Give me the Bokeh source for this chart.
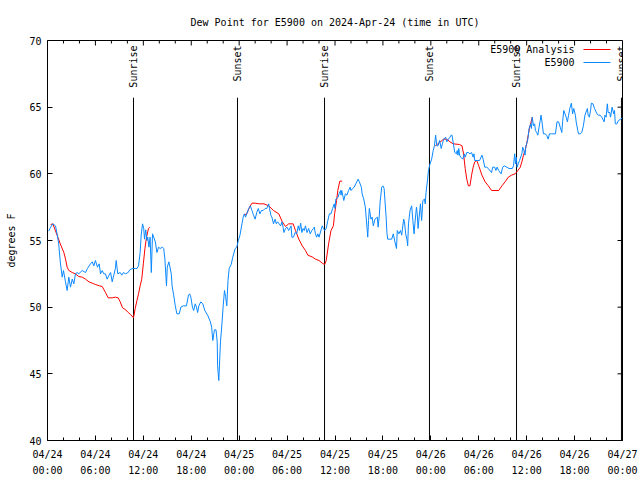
import numpy as np
from bokeh.plotting import figure
from bokeh.models import (FixedTicker, DatetimeTickFormatter, DatetimeAxis, Range1d, Label)
from bokeh.embed import file_html
from bokeh.resources import INLINE

# ---------------- data ----------------
T0 = 1713916800000  # 2024-04-24 00:00 UTC (ms)
HOUR = 3600000

title_text = "Dew Point for E5900 on 2024-Apr-24 (time in UTC)"
y_label = "degrees F"
series_names = ["E5900 Analysis", "E5900"]

# E5900 observations: hours after 04/24 00:00 UTC, dew point (F)
obs_hours = [0.15, 0.4, 0.67, 1.0, 1.2, 1.4, 1.6, 1.84, 2.0, 2.25, 2.46, 2.67, 2.88, 3.1, 3.3, 3.5, 3.7, 3.92,
             4.34, 4.76, 5.0, 5.38, 5.6, 5.8, 6.0, 6.26, 6.47, 6.64, 6.85, 7.05, 7.25, 7.47, 7.7, 7.9, 8.1,
             8.3, 8.5, 8.6, 8.8, 9.1, 9.3, 9.5, 9.75, 10.1, 10.3, 10.6, 11.0, 11.2, 11.4, 11.6, 11.73, 11.9,
             12.05, 12.15, 12.3, 12.45, 12.55, 12.7, 12.85, 13.0, 13.15, 13.3, 13.5, 13.7, 13.9, 14.1, 14.4,
             14.55, 14.7, 14.9, 15.0, 15.2, 15.3, 15.5, 15.6, 15.8, 16.0, 16.2, 16.5, 16.7, 17.0, 17.4, 17.65,
             17.8, 17.95, 18.15, 18.3, 18.5, 18.65, 18.8, 18.95, 19.2, 19.45, 19.7, 20.05, 20.4, 20.55, 20.7,
             20.9, 21.1, 21.25, 21.3, 21.45, 21.66, 21.85, 22.0, 22.16, 22.3, 22.45, 22.6, 22.75, 23.0, 23.2,
             23.5, 23.7, 23.9, 24.1, 24.35, 24.5, 24.65, 24.8, 24.95, 25.2, 25.4, 25.6, 25.8, 26.0, 26.2,
             26.4, 26.6, 26.8, 27.0, 27.25, 27.45, 27.7, 27.8, 27.97, 28.1, 28.3, 28.5, 28.65, 28.8, 29.2,
             29.35, 29.5, 29.6, 29.8, 30.0, 30.2, 30.5, 30.6, 30.8, 31.0, 31.2, 31.4, 31.55, 31.7, 31.85,
             32.0, 32.15, 32.3, 32.5, 32.7, 32.9, 33.1, 33.3, 33.4, 33.55, 33.7, 33.85, 34.0, 34.4, 34.55,
             34.7, 34.9, 35.1, 35.3, 35.5, 35.7, 35.9, 36.0, 36.1, 36.4, 36.5, 36.7, 36.75, 36.85, 37.1,
             37.3, 37.5, 37.7, 37.9, 38.0, 38.2, 38.4, 38.6, 38.9, 39.05, 39.3, 39.4, 39.6, 39.8, 40.0,
             40.1, 40.2, 40.3, 40.5, 40.65, 40.8, 41.0, 41.3, 41.4, 41.55, 41.65, 41.85, 42.0, 42.15, 42.4,
             42.5, 42.6, 42.9, 43.1, 43.3, 43.5, 43.7, 43.8, 44.0, 44.2, 44.35, 44.6, 44.7, 44.85, 45.0,
             45.1, 45.2, 45.4, 45.6, 45.75, 45.9, 46.0, 46.2, 46.3, 46.4, 46.7, 46.85, 47.0, 47.2, 47.3,
             47.4, 47.6, 47.7, 47.9, 48.1, 48.3, 48.45, 48.6, 48.75, 48.9, 49.1, 49.3, 49.45, 49.6, 49.85,
             50.0, 50.2, 50.4, 50.55, 50.65, 51.0, 51.2, 51.3, 51.4, 51.5, 51.6, 51.75, 52.0, 52.2, 52.3,
             52.5, 52.7, 52.9, 53.1, 53.3, 53.4, 53.5, 53.8, 54.1, 54.4, 54.55, 54.75, 55.0, 55.2, 55.6,
             55.75, 56.0, 56.15, 56.3, 56.5, 56.8, 57.0, 57.2, 57.5, 57.8, 58.2, 58.35, 58.5, 58.6, 58.7,
             58.8, 58.95, 59.1, 59.4, 59.5, 59.65, 59.8, 59.9, 60.0, 60.15, 60.3, 60.5, 60.6, 60.7, 60.85,
             61.0, 61.1, 61.25, 61.4, 61.55, 61.7, 61.8, 61.95, 62.1, 62.3, 62.5, 62.7, 62.85, 63.1, 63.4,
             63.6, 63.8, 64.0, 64.2, 64.4, 64.5, 64.65, 64.8, 64.95, 65.1, 65.25, 65.4, 65.6, 65.75, 65.9,
             66.1, 66.2, 66.4, 66.5, 66.7, 66.9, 67.1, 67.3, 67.6, 67.7, 67.85, 68.0, 68.1, 68.3, 68.5,
             68.8, 69.0, 69.2, 69.4, 69.7, 69.8, 69.95, 70.1, 70.2, 70.4, 70.5, 70.7, 70.9, 71.0, 71.1,
             71.3, 71.5, 71.75, 72.0]
obs_dewpoint = [55.7, 56.0, 56.25, 56.1, 55.5, 54.75, 53.4, 52.25, 52.75, 51.9, 51.25, 52.25, 51.5, 52.1, 51.75,
                52.5, 52.6, 52.5, 52.75, 52.6, 52.9, 53.25, 53.4, 53.1, 53.5, 53.0, 53.25, 52.5, 52.75, 52.5,
                52.5, 52.1, 52.4, 52.6, 51.9, 52.4, 52.9, 53.5, 52.5, 52.6, 52.4, 52.6, 52.5, 52.6, 52.8,
                52.9, 52.9, 52.9, 53.1, 54.1, 55.4, 56.25, 55.9, 55.1, 55.8, 55.0, 55.25, 54.5, 55.25, 52.6,
                55.5, 55.25, 54.9, 54.1, 54.5, 54.4, 54.5, 54.4, 53.6, 51.6, 53.0, 53.4, 53.1, 52.5, 51.6,
                50.9, 50.1, 49.5, 49.5, 50.0, 50.1, 50.1, 50.9, 51.0, 50.75, 50.0, 49.75, 50.25, 50.0, 49.6,
                50.1, 50.4, 50.25, 49.75, 49.4, 48.9, 48.5, 47.5, 48.3, 48.3, 47.4, 45.6, 44.5, 47.4, 48.8,
                50.1, 51.25, 50.8, 50.1, 52.0, 52.9, 53.2, 53.75, 54.4, 54.5, 55.0, 55.4, 56.25, 56.75, 57.0,
                56.75, 57.0, 57.4, 57.6, 57.25, 56.9, 56.6, 57.1, 57.4, 57.0, 57.25, 57.25, 57.4, 57.4, 57.75,
                57.4, 56.9, 56.75, 56.25, 56.6, 56.25, 56.4, 56.1, 56.4, 56.0, 55.6, 55.9, 56.0, 55.75, 56.1,
                55.25, 55.25, 55.6, 55.5, 56.1, 55.75, 56.3, 55.6, 55.9, 55.75, 56.1, 55.6, 55.9, 55.5, 55.75,
                55.9, 56.0, 55.5, 55.25, 55.5, 55.25, 56.1, 55.9, 55.75, 55.9, 56.5, 57.0, 57.0, 57.4, 57.75,
                57.4, 58.1, 58.25, 58.5, 58.75, 58.4, 58.75, 58.0, 58.5, 58.4, 58.75, 59.0, 58.75, 58.9, 59.0,
                59.25, 59.6, 59.4, 59.0, 58.5, 58.1, 57.5, 56.0, 55.25, 56.5, 57.4, 56.6, 56.75, 56.1, 56.6,
                56.75, 56.0, 56.9, 57.9, 59.0, 59.1, 58.9, 56.75, 55.6, 55.1, 55.1, 55.1, 55.5, 54.9, 54.4,
                55.75, 55.5, 55.75, 55.4, 56.6, 56.4, 55.5, 55.1, 54.6, 56.25, 57.25, 57.6, 56.5, 55.5, 56.25,
                57.5, 57.0, 55.9, 57.75, 56.5, 58.0, 58.1, 57.75, 58.6, 59.6, 60.25, 60.75, 61.1, 61.75, 62.1,
                62.9, 62.1, 62.1, 62.5, 61.9, 62.25, 62.6, 62.75, 62.4, 62.6, 62.75, 62.9, 62.9, 61.6, 61.5,
                61.75, 61.4, 61.9, 61.4, 61.25, 61.1, 61.5, 61.25, 61.6, 61.6, 61.5, 61.6, 61.25, 61.5, 61.0,
                61.0, 61.0, 61.4, 61.1, 60.5, 60.5, 60.4, 60.1, 60.5, 60.5, 60.25, 60.5, 60.25, 60.0, 60.5,
                60.6, 60.5, 60.4, 60.4, 60.6, 61.5, 60.75, 61.25, 60.5, 60.75, 61.0, 61.5, 62.0, 61.75, 61.4,
                62.1, 62.25, 62.6, 63.4, 63.75, 63.4, 64.25, 63.6, 63.75, 63.25, 63.1, 62.9, 63.5, 64.0, 64.4,
                63.75, 63.0, 63.0, 62.9, 62.6, 63.0, 63.0, 63.0, 63.0, 63.9, 63.9, 63.5, 63.1, 63.9, 64.75,
                64.5, 64.25, 63.9, 64.4, 64.9, 65.3, 64.5, 64.9, 64.4, 63.9, 63.25, 63.0, 63.0, 63.1, 63.6,
                64.4, 64.9, 64.4, 64.25, 64.75, 65.3, 65.25, 64.9, 64.5, 64.4, 64.4, 64.25, 63.9, 64.4, 64.25,
                65.25, 64.6, 64.6, 64.25, 65.0, 64.5, 64.75, 63.75, 63.75, 64.0, 64.1, 64.2]

# E5900 Analysis: three separate segments
ana_hours_1 = [0.4, 0.67, 1.2, 1.6, 2.05, 2.26, 2.46, 2.67, 3.1, 3.5, 3.9, 4.35, 4.76, 5.2, 5.6, 6.0, 6.5,
               6.85, 7.26, 7.6, 8.1, 8.5, 8.85, 9.1, 9.4, 9.8, 10.1, 10.4, 10.77, 10.98, 11.2, 11.4, 11.6,
               11.8, 12.0, 12.2, 12.4, 12.65, 12.8]
ana_dewpoint_1 = [56.2, 56.25, 55.4, 54.75, 54.1, 53.6, 53.0, 52.75, 52.6, 52.5, 52.3, 52.25, 52.1, 51.9,
                  51.8, 51.7, 51.6, 51.55, 51.1, 50.7, 50.7, 50.75, 50.7, 50.4, 49.95, 49.8, 49.6, 49.45,
                  49.2, 49.9, 50.5, 51.0, 51.6, 52.1, 53.25, 54.4, 55.25, 55.9, 56.0]
ana_hours_2 = [24.6, 24.95, 25.3, 25.6, 26.0, 26.5, 27.1, 27.7, 28.3, 28.96, 29.4, 29.8, 30.2, 30.76, 31.05,
               31.47, 31.9, 32.3, 32.6, 33.2, 33.55, 34.0, 34.4, 34.7, 34.9, 35.2, 35.5, 35.8, 35.95, 36.2,
               36.35, 36.6, 36.9]
ana_dewpoint_2 = [56.9, 57.0, 57.5, 57.8, 57.8, 57.75, 57.75, 57.6, 57.25, 57.0, 56.4, 56.05, 56.25, 56.25,
                  55.75, 55.1, 54.6, 54.25, 53.9, 53.75, 53.6, 53.5, 53.3, 53.2, 53.5, 54.75, 55.75, 56.1,
                  57.0, 58.0, 58.75, 59.45, 59.45]
ana_hours_3 = [48.55, 49.0, 49.6, 50.0, 50.4, 50.8, 51.6, 51.9, 52.1, 52.3, 52.5, 52.7, 52.9, 53.1, 53.3,
               53.5, 53.75, 54.0, 54.4, 54.8, 55.2, 55.6, 56.5, 56.9, 57.3, 57.7, 58.1, 58.55, 58.9, 59.2,
               59.4, 59.6, 59.8, 60.0, 60.35, 60.7]
ana_dewpoint_3 = [62.1, 62.3, 62.6, 62.6, 62.4, 62.25, 62.2, 62.1, 61.5, 60.4, 59.6, 59.1, 59.1, 59.9, 60.5,
                  60.9, 61.0, 60.6, 59.9, 59.4, 59.1, 58.75, 58.75, 59.1, 59.4, 59.75, 59.9, 60.0, 60.25,
                  60.5, 60.9, 61.4, 61.75, 62.25, 63.4, 64.25]

# sunrise / sunset markers (hours after start)
event_hours = [10.77, 23.79, 34.69, 47.83, 58.73, 71.87]
event_names = ["Sunrise", "Sunset", "Sunrise", "Sunset", "Sunrise", "Sunset"]

x_tick_hours = list(range(0, 73, 6))
x_minor_hours = list(range(0, 73, 2))
y_ticks = [40, 45, 50, 55, 60, 65, 70]

X_MIN_H, X_MAX_H = 0, 72
Y_MIN, Y_MAX = 40, 70

# ---------------- styling ----------------
FONT = "DejaVu Sans Mono"
FS = "10px"
BLUE = "#0a88ff"
RED = "#ff0000"
FRAME_W, FRAME_H = 575, 400
MAJOR_TICK_PX, MINOR_TICK_PX = 5, 3


def to_ms(hours):
    return [T0 + h * HOUR for h in hours]


nan = float("nan")
ana_hours = ana_hours_1 + [nan] + ana_hours_2 + [nan] + ana_hours_3
ana_dewpoint = ana_dewpoint_1 + [nan] + ana_dewpoint_2 + [nan] + ana_dewpoint_3

p = figure(width=640, height=480, x_axis_type="datetime",
           x_range=Range1d(T0 + X_MIN_H * HOUR, T0 + X_MAX_H * HOUR),
           y_range=Range1d(Y_MIN, Y_MAX),
           output_backend="svg", toolbar_location=None,
           min_border_left=47, min_border_right=18, min_border_top=40, min_border_bottom=40)

p.title.text = title_text
p.title.align = "center"
p.title.text_font = FONT
p.title.text_font_size = FS
p.title.text_font_style = "normal"
p.title.text_color = "black"
p.title.standoff = 25

p.outline_line_color = "black"
p.outline_line_alpha = 1.0
p.outline_line_width = 1
p.xgrid.visible = False
p.ygrid.visible = False
p.background_fill_color = "white"
p.border_fill_color = "white"

fields = ["microseconds", "milliseconds", "seconds", "minsec", "minutes", "hourmin",
          "hours", "days", "months", "years"]

xa = p.below[0]
xa.ticker = FixedTicker(ticks=to_ms(x_tick_hours), minor_ticks=to_ms(x_minor_hours))
xa.formatter = DatetimeTickFormatter(**{f: "%m/%d" for f in fields})
xa.axis_line_color = None
xa.major_tick_in = MAJOR_TICK_PX
xa.major_tick_out = 0
xa.minor_tick_in = MINOR_TICK_PX
xa.minor_tick_out = 0
xa.major_label_standoff = 8
xa.major_label_text_font = FONT
xa.major_label_text_font_size = FS
xa.major_label_text_color = "black"

xb = DatetimeAxis(ticker=FixedTicker(ticks=to_ms(x_tick_hours), minor_ticks=[]),
                  formatter=DatetimeTickFormatter(**{f: "%H:%M" for f in fields}),
                  axis_line_color=None, major_tick_line_color=None, minor_tick_line_color=None,
                  major_tick_in=0, major_tick_out=0, minor_tick_in=0, minor_tick_out=0,
                  major_label_standoff=2, major_label_text_font=FONT,
                  major_label_text_font_size=FS, major_label_text_color="black")
p.add_layout(xb, "below")

ya = p.left[0]
ya.ticker = FixedTicker(ticks=y_ticks, minor_ticks=[])
ya.axis_line_color = None
ya.major_tick_in = MAJOR_TICK_PX
ya.major_tick_out = 0
ya.minor_tick_line_color = None
ya.major_label_standoff = 6
ya.major_label_text_font = FONT
ya.major_label_text_font_size = FS
ya.major_label_text_color = "black"
ya.axis_label = y_label
ya.axis_label_text_font = FONT
ya.axis_label_text_font_size = FS
ya.axis_label_text_font_style = "normal"
ya.axis_label_text_color = "black"
ya.axis_label_standoff = 9

# mirrored ticks on the top and right frame edges (gnuplot style)
span_h = X_MAX_H - X_MIN_H
span_y = Y_MAX - Y_MIN
maj_dy = span_y * MAJOR_TICK_PX / FRAME_H
min_dy = span_y * MINOR_TICK_PX / FRAME_H
maj_dx = span_h * MAJOR_TICK_PX / FRAME_W * HOUR
top_major = to_ms(x_tick_hours)
top_minor = to_ms([h for h in x_minor_hours if h not in x_tick_hours])
p.segment(x0=top_major, y0=[Y_MAX] * len(top_major), x1=top_major, y1=[Y_MAX - maj_dy] * len(top_major),
          line_color="black", line_width=1)
p.segment(x0=top_minor, y0=[Y_MAX] * len(top_minor), x1=top_minor, y1=[Y_MAX - min_dy] * len(top_minor),
          line_color="black", line_width=1)
x_right = T0 + X_MAX_H * HOUR
p.segment(x0=[x_right] * len(y_ticks), y0=y_ticks, x1=[x_right - maj_dx] * len(y_ticks), y1=y_ticks,
          line_color="black", line_width=1)

# sunrise / sunset lines
line_top = Y_MIN + span_y * 0.857
ev_x = to_ms(event_hours)
p.segment(x0=ev_x, y0=[Y_MIN] * len(ev_x), x1=ev_x, y1=[line_top] * len(ev_x),
          line_color="black", line_width=1)

# data
p.line(to_ms(ana_hours), ana_dewpoint, line_color=RED, line_width=1)
p.line(to_ms(obs_hours), obs_dewpoint, line_color=BLUE, line_width=1)

label_y = Y_MIN + span_y * 0.9875
for xv, name in zip(ev_x, event_names):
    p.add_layout(Label(x=xv, y=label_y, text=name, angle=np.pi / 2, angle_units="rad",
                       text_align="right", text_baseline="middle",
                       text_font=FONT, text_font_size=FS, text_color="black"))

# key (gnuplot style: text on the left, sample line on the right)
key_text_x = T0 + (X_MIN_H + span_h * 0.9165) * HOUR
key_line_x0 = T0 + (X_MIN_H + span_h * 0.9322) * HOUR
key_line_x1 = T0 + (X_MIN_H + span_h * 0.9791) * HOUR
key_rows = [Y_MAX - span_y * 0.0225, Y_MAX - span_y * 0.055]
key_colors = [RED, BLUE]
for name, ky in zip(series_names, key_rows):
    p.add_layout(Label(x=key_text_x, y=ky, text=name, text_align="right", text_baseline="middle",
                       text_font=FONT, text_font_size=FS, text_color="black"))
p.segment(x0=[key_line_x0] * 2, y0=key_rows, x1=[key_line_x1] * 2, y1=key_rows,
          line_color=key_colors, line_width=1)

open("out.html", "w").write(file_html(p, INLINE))
